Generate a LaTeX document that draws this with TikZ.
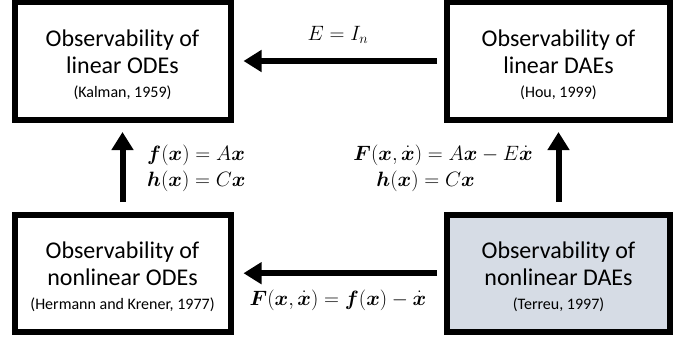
\documentclass[tikz,border=0pt]{standalone}
\usepackage{amsmath,amssymb}
\usepackage{fontspec}
\setmainfont{Carlito}
\usetikzlibrary{positioning,arrows.meta}
\definecolor{daegray}{RGB}{214,220,229}
\tikzset{
  obsbox/.style={draw=black,line width=6pt,minimum height=117pt,align=center,inner sep=0pt},
  flowarrow/.style={line width=6pt,-{Triangle[length=18pt,width=21pt]}},
  titlefont/.style={font=\fontsize{24}{27}\selectfont},
  eqfont/.style={font=\fontsize{20}{26}\selectfont,inner sep=0pt,anchor=base},
}
\newcommand{\obstext}[2]{\rule{0pt}{24pt}Observability of\\#1\\[-3pt]{\fontsize{16}{18}\selectfont #2}}
\newcommand{\bx}{\boldsymbol{x}}
\newcommand{\bxd}{\dot{\boldsymbol{x}}}

\begin{document}
\begin{tikzpicture}[x=1pt,y=-1pt]
        \useasboundingbox (0,0) rectangle (676,337);
        % the four boxes
        \node[obsbox,titlefont,minimum width=216pt] (lode) at (122.5,61) {\obstext{linear ODEs}{(Kalman, 1959)}};
        \node[obsbox,titlefont,minimum width=223pt] (ldae) at (558.5,61) {\obstext{linear DAEs}{(Hou, 1999)}};
        \node[obsbox,titlefont,minimum width=216pt] (node) at (122.5,273.2) {\obstext{nonlinear ODEs}{(Hermann and Krener, 1977)}};
        \node[obsbox,titlefont,minimum width=223pt,fill=daegray] (ndae) at (558.5,273.2) {\obstext{nonlinear DAEs}{(Terreu, 1997)}};
        % arrows
        \draw[flowarrow,shorten <=7pt,shorten >=10pt] (ldae.west) -- (lode.east);
        \draw[flowarrow,shorten <=7pt,shorten >=10pt] (ndae.west) -- (node.east);
        \draw[flowarrow,shorten <=9.5pt,shorten >=9.5pt] (node.north) -- (lode.south);
        \draw[flowarrow,shorten <=9.5pt,shorten >=9.5pt] (ndae.north) -- (ldae.south);
        % labels
        \node[eqfont] (eqE) at (338,40.7) {$E = I_n$};
        \node[eqfont,anchor=base west] (eqf) at (147,160) {$\boldsymbol{f}(\bx) = A\bx$};
        \node[eqfont,anchor=base west] (eqh) at (147,186.7) {$\boldsymbol{h}(\bx) = C\bx$};
        \node[eqfont,anchor=base east] (eqF) at (533,160) {$\boldsymbol{F}(\bx,\bxd) = A\bx - E\bxd$};
        \node[eqfont,anchor=base east] (eqH) at (475,186.7) {$\boldsymbol{h}(\bx) = C\bx$};
        \node[eqfont] (eqN) at (338,305) {$\boldsymbol{F}(\bx,\bxd) = \boldsymbol{f}(\bx) - \bxd$};
      \end{tikzpicture}
\end{document}
